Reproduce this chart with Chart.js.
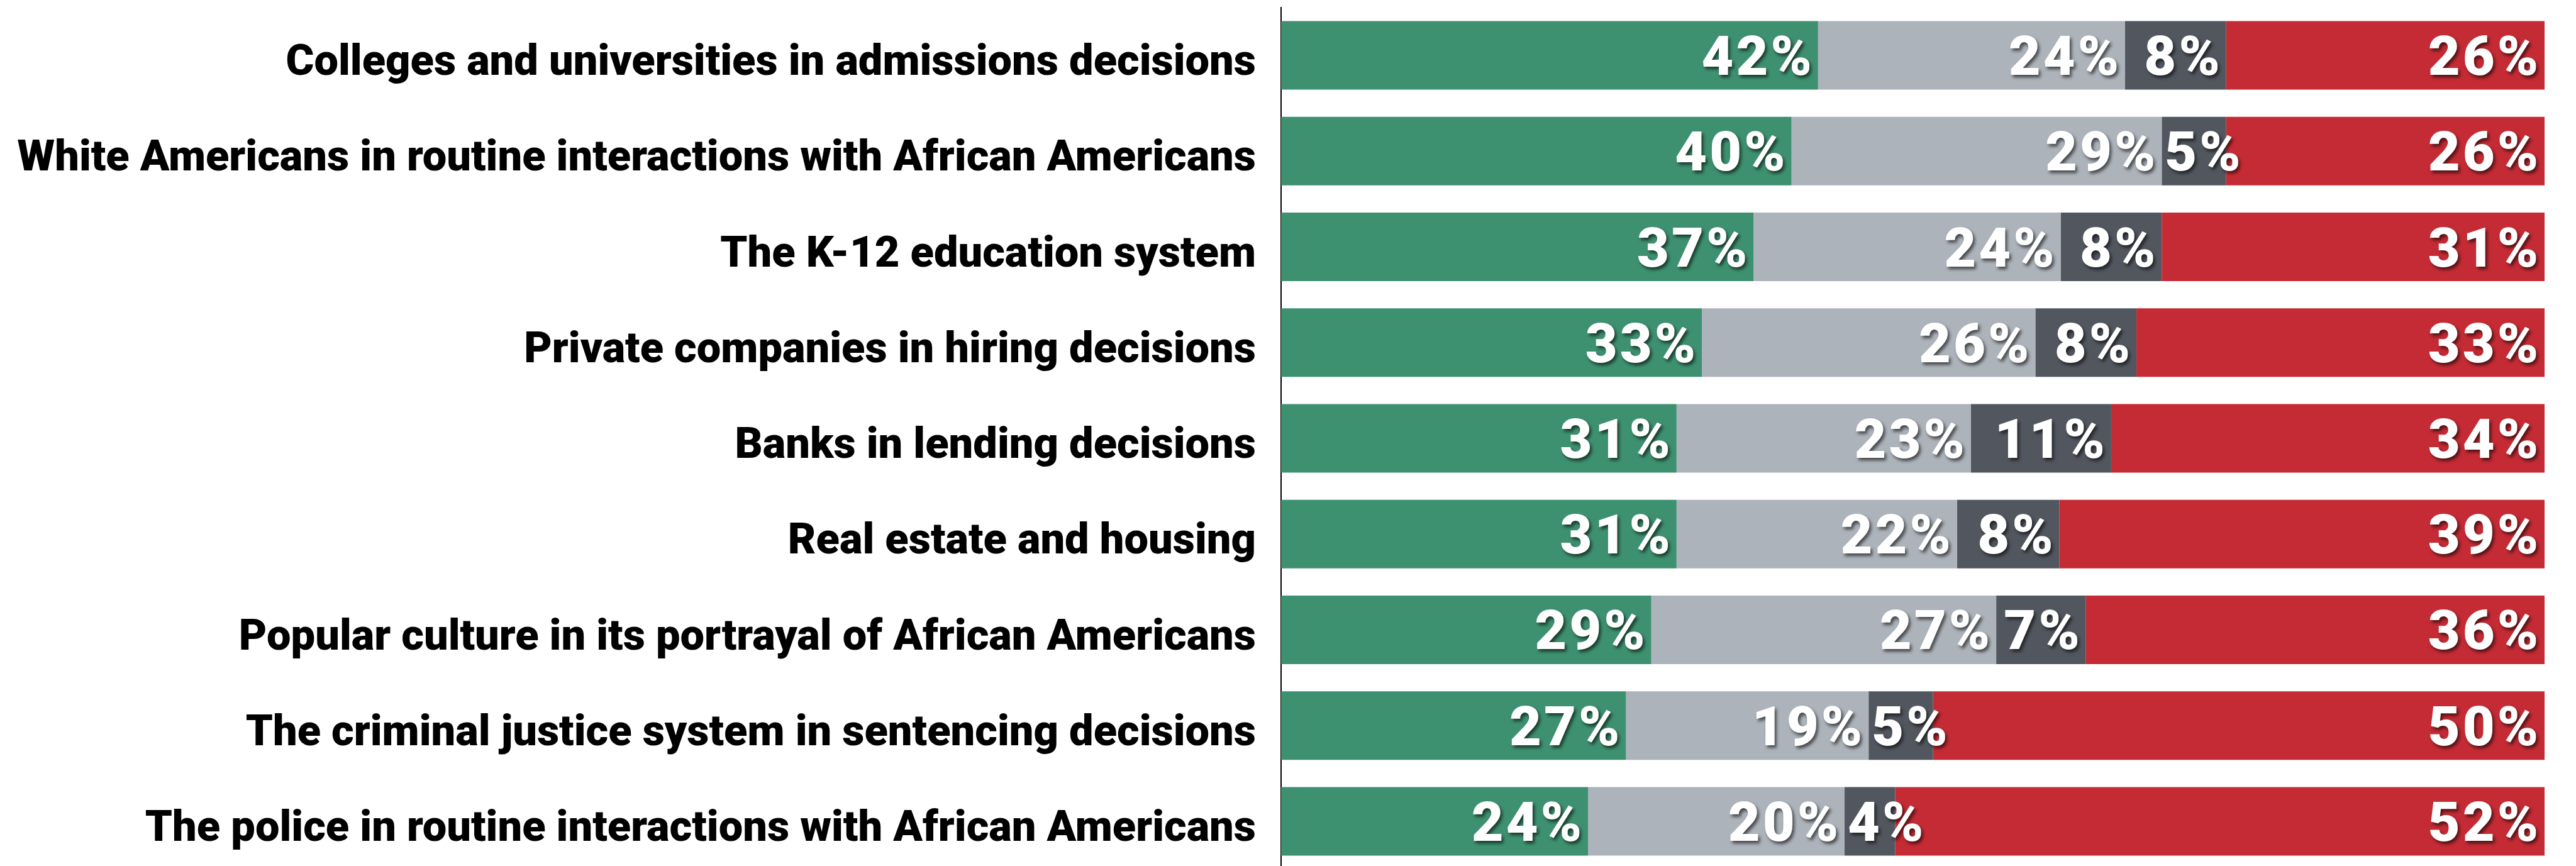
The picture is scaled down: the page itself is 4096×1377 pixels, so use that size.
<!DOCTYPE html>
<html>
<head>
<meta charset="utf-8">
<script src="https://cdn.jsdelivr.net/npm/chart.js@4/dist/chart.umd.min.js"></script>
<style>
  html, body { margin: 0; padding: 0; background: #ffffff; overflow: hidden; width: 4096px; height: 1377px; }
  #wrap { position: absolute; left: 0; top: 0; width: 4096px; height: 1382px; }
</style>
</head>
<body>
<div id="wrap"><canvas id="c" width="4096" height="1382"></canvas></div>
<script>
// ---- data ----
const categories = [
  "Colleges and universities in admissions decisions",
  "White Americans in routine interactions with African Americans",
  "The K-12 education system",
  "Private companies in hiring decisions",
  "Banks in lending decisions",
  "Real estate and housing",
  "Popular culture in its portrayal of African Americans",
  "The criminal justice system in sentencing decisions",
  "The police in routine interactions with African Americans"
];
// bar lengths (percent of the full bar), measured
const greenValues = [42.5, 40.4, 37.4, 33.3, 31.3, 31.3, 29.3, 27.3, 24.3];
const lightValues = [24.3, 29.3, 24.3, 26.4, 23.3, 22.2, 27.3, 19.2, 20.3];
const darkValues  = [8.0, 5.1, 8.0, 8.0, 11.1, 8.1, 7.1, 5.1, 4.0];
const redValues   = [25.2, 25.2, 30.3, 32.3, 34.3, 38.4, 36.3, 48.4, 51.4];
// printed percentages
const greenLabels = [42, 40, 37, 33, 31, 31, 29, 27, 24];
const lightLabels = [24, 29, 24, 26, 23, 22, 27, 19, 20];
const darkLabels  = [8, 5, 8, 8, 11, 8, 7, 5, 4];
const redLabels   = [26, 26, 31, 33, 34, 39, 36, 50, 52];

const seriesValues = [greenValues, lightValues, darkValues, redValues];
const seriesLabels = [greenLabels, lightLabels, darkLabels, redLabels];
const seriesColors = ["#3e9170", "#adb3ba", "#52575f", "#c52b34"];

// ---- styling ----
const FONT_FAMILY = "Roboto, 'Open Sans', sans-serif";
const AXIS_WIDTH = 2037;
const TARGET_LABEL_WIDTH = 1970;
const VALUE_SPACING = 4;

// choose category font size so the longest label spans the same width as in the reference
const mctx = document.createElement('canvas').getContext('2d');
let longest = 0;
mctx.font = "900 100px " + FONT_FAMILY;
categories.forEach(c => { longest = Math.max(longest, mctx.measureText(c).width); });
const catFontSize = Math.round(100 * TARGET_LABEL_WIDTH / longest * 10) / 10;

const valueLabelPlugin = {
  id: 'valueLabels',
  afterDatasetsDraw(chart) {
    const ctx = chart.ctx;
    ctx.save();
    ctx.font = "900 88px " + FONT_FAMILY;
    if ('letterSpacing' in ctx) ctx.letterSpacing = VALUE_SPACING + 'px';
    ctx.textAlign = 'right';
    ctx.textBaseline = 'alphabetic';
    chart.data.datasets.forEach((ds, i) => {
      const meta = chart.getDatasetMeta(i);
      meta.data.forEach((el, j) => {
        const p = el.getProps(['x', 'base', 'y'], true);
        const text = seriesLabels[i][j] + '%';
        const w = ctx.measureText(text).width;
        const right = Math.max(p.x - 10 + VALUE_SPACING, p.base + 5 + w);
        ctx.shadowColor = 'rgba(0,0,0,0.6)';
        ctx.shadowOffsetX = 3;
        ctx.shadowOffsetY = 4;
        ctx.shadowBlur = 5;
        ctx.fillStyle = '#ffffff';
        ctx.fillText(text, right, p.y + 31);
      });
    });
    ctx.restore();
  }
};

new Chart(document.getElementById('c'), {
  type: 'bar',
  data: {
    labels: categories,
    datasets: seriesValues.map((vals, i) => ({
      data: vals,
      backgroundColor: seriesColors[i],
      borderWidth: 0,
      barPercentage: 0.716,
      categoryPercentage: 1.0,
      stack: 'all'
    }))
  },
  options: {
    indexAxis: 'y',
    responsive: false,
    animation: false,
    devicePixelRatio: 1,
    layout: { padding: { top: 12, right: 50, bottom: 0, left: 0 } },
    plugins: { legend: { display: false }, tooltip: { enabled: false } },
    scales: {
      x: { stacked: true, min: 0, max: 100, display: false },
      y: {
        stacked: true,
        grid: { display: false, drawTicks: false },
        border: { display: true, color: '#000000', width: 2 },
        ticks: {
          color: '#000000',
          padding: 40,
          labelOffset: 14,
          autoSkip: false,
          font: { family: FONT_FAMILY, size: catFontSize, weight: 900 }
        },
        afterFit(scale) {
          scale.width = AXIS_WIDTH;
          scale.paddingTop = 0;
          scale.paddingBottom = 0;
        }
      }
    }
  },
  plugins: [valueLabelPlugin]
});
</script>
</body>
</html>
